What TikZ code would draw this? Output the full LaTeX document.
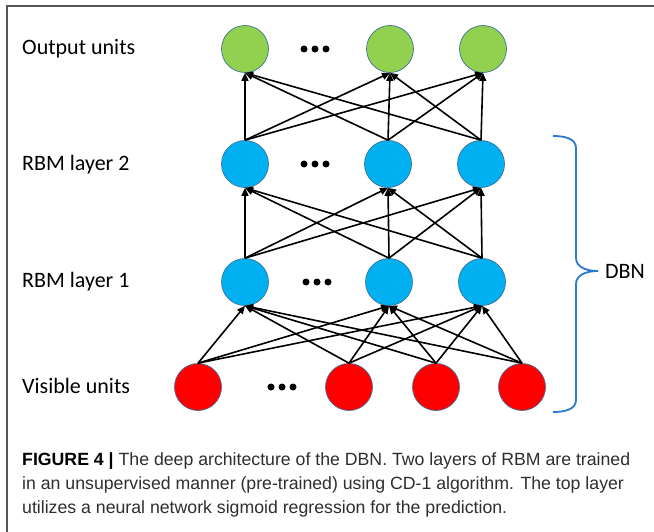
\documentclass[tikz,border=0pt]{standalone}
\usepackage{fontspec}
\setmainfont{Carlito}
\newfontfamily\capfont{Liberation Sans}
\usetikzlibrary{arrows.meta}
\definecolor{ogreen}{HTML}{92D050}
\definecolor{oblue}{HTML}{00B0F0}
\definecolor{ored}{HTML}{FF0000}
\definecolor{rimc}{HTML}{41719C}
\definecolor{bracec}{HTML}{2A7AD0}
\definecolor{framec}{HTML}{555555}
\tikzset{
  unit/.style={circle, draw=rimc, line width=0.7pt, minimum size=47pt, inner sep=0pt},
  outu/.style={unit, fill=ogreen},
  hidu/.style={unit, fill=oblue},
  visu/.style={unit, fill=ored},
  conn/.style={line width=1.6pt, -{Triangle[length=8pt,width=7pt]}},
  lbl/.style={anchor=west, inner sep=0pt, font=\fontsize{22}{26}\selectfont},
  capl/.style={anchor=base west, inner sep=0pt, text=black!82, font=\capfont\fontsize{17.7}{22}\selectfont},
  dotc/.style={circle, fill=black, inner sep=0pt, minimum size=7pt}
}
\begin{document}
\begin{tikzpicture}[x=1pt, y=-1pt]
\useasboundingbox (0,0) rectangle (654,532);
\draw[framec, line width=1.6pt] (7,532) -- (7,6) -- (654,6);

% labels
\node[lbl] (lo) at (22,49) {Output units};
\node[lbl] (l2) at (22,165) {RBM layer 2};
\node[lbl] (l1) at (22,282) {RBM layer 1};
\node[lbl] (lv) at (22,386) {Visible units};

% units
\node[outu] (o1) at (245,49) {};
\node[outu] (o2) at (390,49) {};
\node[outu] (o3) at (483,49) {};
\node[hidu] (b1) at (245,164) {};
\node[hidu] (b2) at (388,164) {};
\node[hidu] (b3) at (481,164) {};
\node[hidu] (a1) at (245,282) {};
\node[hidu] (a2) at (389,282) {};
\node[hidu] (a3) at (482,282) {};
\node[visu] (v1) at (198,387) {};
\node[visu] (v2) at (349,387) {};
\node[visu] (v3) at (436,387) {};
\node[visu] (v4) at (522,387) {};

% ellipsis dots
\foreach \y/\x in {49/315, 164/315, 282/317, 387/282} {
  \node[dotc] at (\x-11,\y) {};
  \node[dotc] at (\x,\y) {};
  \node[dotc] at (\x+11,\y) {};
}

% connections
\foreach \u in {b1,b2,b3} {
  \foreach \t in {o1,o2,o3} {
    \draw[conn] (\u.north) -- (\t.south);
  }
}
\foreach \u in {a1,a2,a3} {
  \foreach \t in {b1,b2,b3} {
    \draw[conn] (\u.north) -- (\t.south);
  }
}
\foreach \u in {v1,v2,v3,v4} {
  \foreach \t in {a1,a2,a3} {
    \draw[conn] (\u.north) -- (\t.south);
  }
}

% DBN brace
\coordinate (btop) at (553,136);
\coordinate (btip) at (598,271);
\coordinate (bbot) at (553,412);
\draw[bracec, line width=1.8pt] (btop) to[out=0,in=90] (576,148) -- (576,258)
   to[out=-90,in=180] (btip) to[out=180,in=90] (576,284) -- (576,400)
   to[out=-90,in=0] (bbot);
\node[lbl] (dbn) at (605,271) {DBN};

% caption
\node[capl] (c1) at (22,465) {\textcolor{black}{\textbf{FIGURE 4 |}} The deep architecture of the DBN. Two layers of RBM are trained};
\node[capl] (c2) at (22,489) {in an unsupervised manner (pre-trained) using CD-1 algorithm. The top layer};
\node[capl] (c3) at (22,513) {utilizes a neural network sigmoid regression for the prediction.};
\end{tikzpicture}
\end{document}
